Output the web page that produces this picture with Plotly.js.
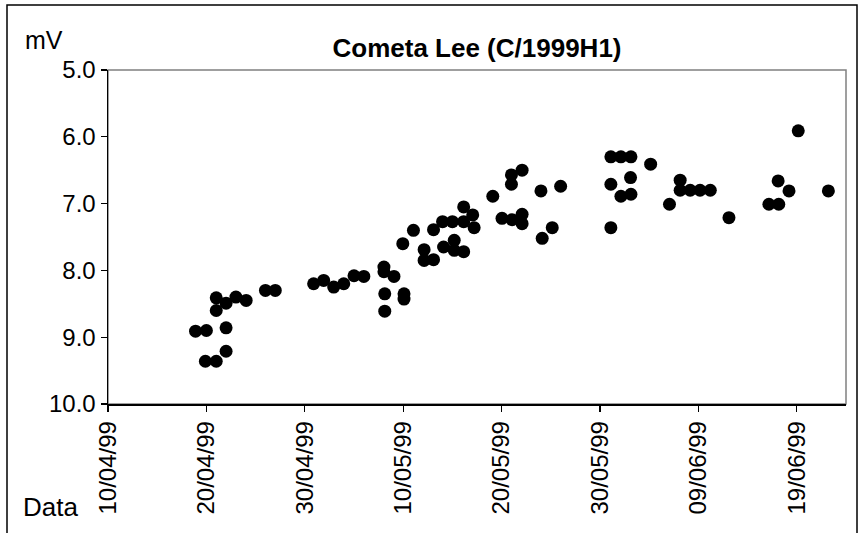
<!DOCTYPE html>
<html>
<head>
<meta charset="utf-8">
<script src="https://cdn.plot.ly/plotly-3.0.1.min.js"></script>
<style>html,body{margin:0;padding:0;background:#fff;}#chart{width:863px;height:533px;}</style>
</head>
<body>
<div id="chart"></div>
<script>
const obsDates = [
  "1999-04-18 21:30", "1999-04-20 00:00", "1999-04-19 21:30", "1999-04-21 00:00",
  "1999-04-22 00:00", "1999-04-22 00:00", "1999-04-21 00:00", "1999-04-21 00:00",
  "1999-04-22 00:00", "1999-04-23 00:00", "1999-04-24 01:00", "1999-04-26 00:00",
  "1999-04-27 00:00", "1999-04-30 21:30", "1999-05-01 22:00", "1999-05-02 22:30",
  "1999-05-03 23:00", "1999-05-05 00:00", "1999-05-06 00:00", "1999-05-08 01:00",
  "1999-05-08 01:00", "1999-05-09 01:30", "1999-05-08 03:00", "1999-05-08 03:00",
  "1999-05-10 02:00", "1999-05-10 02:00", "1999-05-09 23:00", "1999-05-11 01:00",
  "1999-05-12 03:00", "1999-05-12 03:00", "1999-05-13 02:00", "1999-05-13 02:00",
  "1999-05-14 00:00", "1999-05-14 02:30", "1999-05-15 00:00", "1999-05-15 04:30",
  "1999-05-15 04:30", "1999-05-16 03:30", "1999-05-16 03:30", "1999-05-16 03:30",
  "1999-05-17 01:30", "1999-05-17 05:00", "1999-05-19 02:30", "1999-05-20 01:00",
  "1999-05-21 00:00", "1999-05-21 00:00", "1999-05-21 01:30", "1999-05-22 02:00",
  "1999-05-22 02:00", "1999-05-22 02:00", "1999-05-24 00:00", "1999-05-24 03:00",
  "1999-05-25 03:30", "1999-05-26 00:00", "1999-05-31 02:30", "1999-05-31 02:30",
  "1999-05-31 02:30", "1999-06-01 03:00", "1999-06-01 03:00", "1999-06-02 03:30",
  "1999-06-02 03:30", "1999-06-02 02:30", "1999-06-04 03:30", "1999-06-06 01:30",
  "1999-06-07 03:30", "1999-06-07 03:30", "1999-06-08 04:00", "1999-06-09 04:00",
  "1999-06-10 05:00", "1999-06-12 02:30", "1999-06-16 04:00", "1999-06-17 04:00",
  "1999-06-17 02:30", "1999-06-18 05:00", "1999-06-19 03:30", "1999-06-22 05:00"
];
const magnitudes = [
  8.91, 8.90, 9.36, 9.36,
  9.21, 8.86, 8.60, 8.41,
  8.49, 8.40, 8.45, 8.30,
  8.30, 8.20, 8.15, 8.25,
  8.20, 8.08, 8.09, 7.95,
  8.02, 8.09, 8.35, 8.61,
  8.35, 8.43, 7.60, 7.40,
  7.69, 7.85, 7.84, 7.39,
  7.27, 7.65, 7.27, 7.55,
  7.70, 7.72, 7.27, 7.05,
  7.17, 7.36, 6.89, 7.22,
  6.57, 6.71, 7.24, 6.50,
  7.16, 7.30, 6.81, 7.52,
  7.36, 6.74, 6.30, 6.71,
  7.36, 6.30, 6.89, 6.30,
  6.86, 6.61, 6.41, 7.01,
  6.65, 6.80, 6.80, 6.80,
  6.80, 7.21, 7.01, 7.01,
  6.66, 6.81, 5.91, 6.81
];
const chartTitle = "Cometa Lee (C/1999H1)";
const yLabel = "mV";
const xLabel = "Data";
const xRange = ["1999-04-10", "1999-06-24"];
const yRange = [10, 5];

const FONT = "Arial, 'Liberation Sans', sans-serif";

const trace = {
  type: "scatter",
  mode: "markers",
  x: obsDates,
  y: magnitudes,
  marker: {color: "#000", size: 13, line: {width: 0}},
  hoverinfo: "x+y"
};

const layout = {
  width: 863, height: 533,
  margin: {l: 108, r: 17, t: 70, b: 129},
  paper_bgcolor: "#fff", plot_bgcolor: "#fff",
  showlegend: false,
  font: {family: FONT, color: "#000"},
  title: {text: "<b>" + chartTitle + "</b>", font: {family: FONT, size: 26, color: "#000"},
          x: 0.5, xref: "paper", xanchor: "center", y: 1 - 48/533, yref: "container", yanchor: "middle"},
  xaxis: {
    type: "date", range: xRange, tick0: "1999-04-10", dtick: 864000000,
    tickformat: "%d/%m/%y", tickangle: -90, ticks: "outside", ticklen: 6, tickwidth: 1.2,
    tickcolor: "#000", showline: true, linecolor: "#000", linewidth: 1.5,
    showgrid: false, zeroline: false, tickfont: {family: FONT, size: 24, color: "#000"}
  },
  yaxis: {
    range: yRange, tick0: 5, dtick: 1, tickformat: ".1f",
    ticks: "outside", ticklen: 6, tickwidth: 1.2, tickcolor: "#000",
    showline: true, linecolor: "#000", linewidth: 1.5,
    showgrid: false, zeroline: false, tickfont: {family: FONT, size: 24, color: "#000"}
  },
  shapes: [
    {type: "rect", xref: "paper", yref: "paper", x0: 0, x1: 1, y0: 0, y1: 1,
     line: {color: "#808080", width: 1.5}, layer: "below"},
    {type: "rect", xref: "paper", yref: "paper",
     x0: (7-108)/738, x1: (857-108)/738, y0: (404-560)/334, y1: (404-5)/334,
     line: {color: "#000", width: 1.5}, layer: "below"}
  ],
  annotations: [
    {text: yLabel, xref: "paper", yref: "paper", x: (23-108)/738, y: (404-40)/334,
     xanchor: "left", yanchor: "middle", showarrow: false, font: {family: FONT, size: 25, color: "#000"}},
    {text: xLabel, xref: "paper", yref: "paper", x: (21-108)/738, y: (404-507)/334,
     xanchor: "left", yanchor: "middle", showarrow: false, font: {family: FONT, size: 26, color: "#000"}}
  ]
};

Plotly.newPlot("chart", [trace], layout, {displayModeBar: false, staticPlot: true});
</script>
</body>
</html>
